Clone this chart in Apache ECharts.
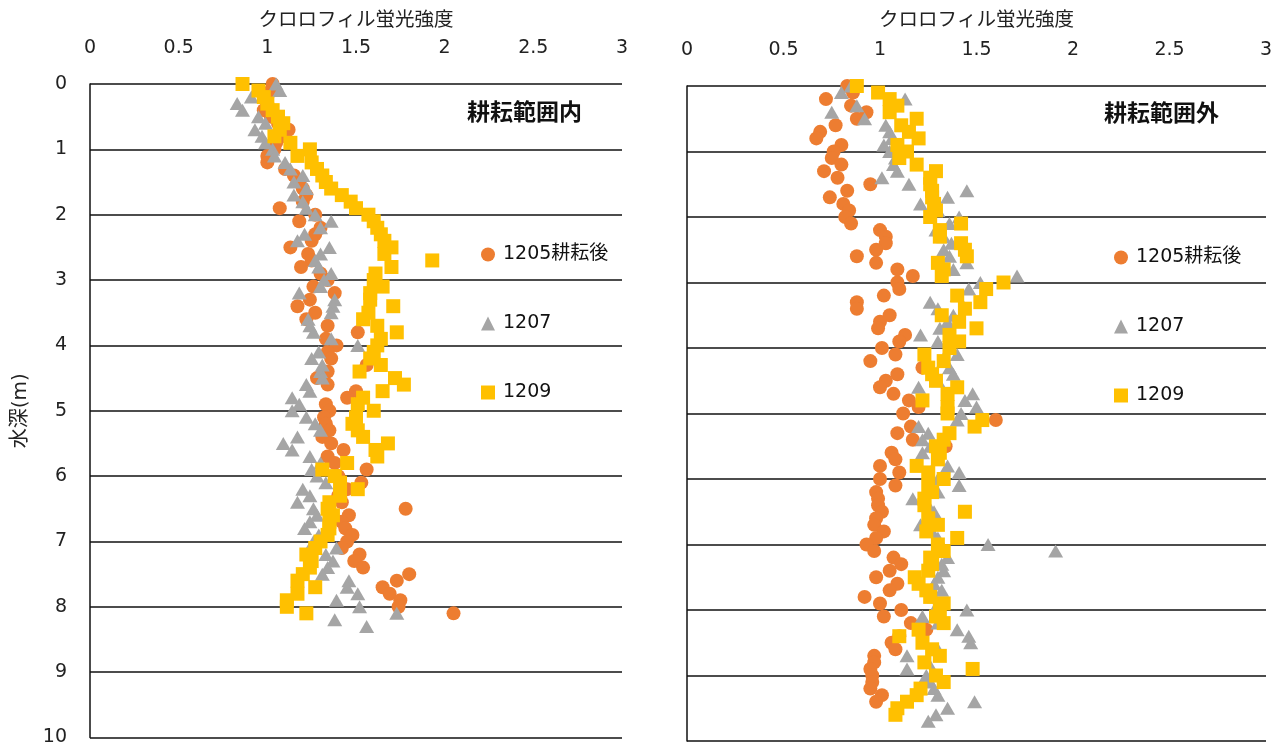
<!DOCTYPE html>
<html>
<head>
<meta charset="utf-8">
<title>クロロフィル蛍光強度の鉛直分布</title>
<script src="https://cdn.jsdelivr.net/npm/echarts@6/dist/echarts.min.js"></script>
<style>
  html, body { margin: 0; padding: 0; background: #fff; }
  #chart { width: 1281px; height: 747px; }
</style>
</head>
<body>
<div id="chart"></div>
<script>
// Sampling depths (m)
const depthM = [
  0.0, 0.1, 0.2, 0.3, 0.4, 0.5, 0.6, 0.7, 0.8, 0.9,
  1.0, 1.1, 1.2, 1.3, 1.4, 1.5, 1.6, 1.7, 1.8, 1.9,
  2.0, 2.1, 2.2, 2.3, 2.4, 2.5, 2.6, 2.7, 2.8, 2.9,
  3.0, 3.1, 3.2, 3.3, 3.4, 3.5, 3.6, 3.7, 3.8, 3.9,
  4.0, 4.1, 4.2, 4.3, 4.4, 4.5, 4.6, 4.7, 4.8, 4.9,
  5.0, 5.1, 5.2, 5.3, 5.4, 5.5, 5.6, 5.7, 5.8, 5.9,
  6.0, 6.1, 6.2, 6.3, 6.4, 6.5, 6.6, 6.7, 6.8, 6.9,
  7.0, 7.1, 7.2, 7.3, 7.4, 7.5, 7.6, 7.7, 7.8, 7.9,
  8.0, 8.1, 8.2, 8.3, 8.4, 8.5, 8.6, 8.7, 8.8, 8.9,
  9.0, 9.1, 9.2, 9.3, 9.4, 9.5, 9.6, 9.7
];

const seriesNames = ['1205耕耘後', '1207', '1209'];
const panelTitles = ['耕耘範囲内', '耕耘範囲外'];
const xAxisName = 'クロロフィル蛍光強度';
const yAxisName = '水深(m)';

// Fluorescence inside the tilled area, one value per depth
const inside1205 = [
  1.03, 1.02, 1.00, 1.00, 0.98, 1.02, 1.06, 1.12, 1.08, 1.05,
  1.04, 1.00, 1.00, 1.10, 1.15, 1.18, 1.20, 1.22, 1.20, 1.07,
  1.27, 1.18, 1.30, 1.27, 1.25, 1.13, 1.23, 1.25, 1.19, 1.30,
  1.34, 1.26, 1.38, 1.24, 1.17, 1.27, 1.22, 1.34, 1.51, 1.33,
  1.39, 1.34, 1.36, 1.56, 1.34, 1.28, 1.34, 1.50, 1.45, 1.33,
  1.35, 1.32, 1.33, 1.35, 1.31, 1.36, 1.43, 1.34, 1.38, 1.56,
  1.40, 1.53, 1.45, 1.40, 1.42, 1.78, 1.46, 1.42, 1.44, 1.48,
  1.45, 1.42, 1.52, 1.49, 1.54, 1.80, 1.73, 1.65, 1.69, 1.75,
  1.74, 2.05
];
const inside1207 = [
  1.05, 1.07, 0.91, 0.83, 0.86, 0.95, 0.99, 0.93, 0.97, 0.99,
  1.03, 1.04, 1.10, 1.13, 1.20, 1.15, 1.22, 1.15, 1.20, 1.22,
  1.27, 1.36, 1.30, 1.21, 1.17, 1.35, 1.30, 1.27, 1.29, 1.36,
  1.32, 1.30, 1.18, 1.38, 1.37, 1.36, 1.23, 1.24, 1.26, 1.36,
  1.51, 1.29, 1.25, 1.31, 1.30, 1.31, 1.22, 1.24, 1.14, 1.18,
  1.14, 1.22, 1.27, 1.30, 1.17, 1.09, 1.14, 1.24, 1.30, 1.25,
  1.28, 1.33, 1.20, 1.24, 1.17, 1.26, 1.28, 1.24, 1.21, 1.29,
  1.26, 1.39, 1.33, 1.37, 1.34, 1.31, 1.46, 1.45, 1.51, 1.39,
  1.52, 1.73, 1.38, 1.56
];
const inside1209 = [
  0.86, 0.95, 0.98, 1.00, 1.03, 1.06, 1.09, 1.07, 1.04, 1.13,
  1.24, 1.17, 1.25, 1.28, 1.31, 1.33, 1.36, 1.42, 1.47, 1.50,
  1.57, 1.60, 1.62, 1.64, 1.66, 1.70, 1.66, 1.93, 1.70, 1.61,
  1.60, 1.65, 1.58, 1.58, 1.71, 1.57, 1.54, 1.62, 1.73, 1.64,
  1.62, 1.60, 1.58, 1.64, 1.52, 1.72, 1.77, 1.65, 1.54, 1.51,
  1.60, 1.50, 1.48, 1.51, 1.54, 1.68, 1.61, 1.62, 1.45, 1.31,
  1.38, 1.41, 1.51, 1.41, 1.35, 1.34, 1.37, 1.35, 1.35, 1.34,
  1.30, 1.27, 1.22, 1.25, 1.24, 1.20, 1.17, 1.27, 1.17, 1.11,
  1.11, 1.22
];

// Fluorescence outside the tilled area
const outside1205 = [
  0.83, 0.86, 0.72, 0.85, 0.93, 0.88, 0.77, 0.69, 0.67, 0.80,
  0.76, 0.75, 0.80, 0.71, 0.78, 0.95, 0.83, 0.74, 0.81, 0.84,
  0.82, 0.85, 1.00, 1.03, 1.03, 0.98, 0.88, 0.98, 1.09, 1.17,
  1.09, 1.10, 1.02, 0.88, 0.88, 1.05, 1.00, 0.99, 1.13, 1.10,
  1.01, 1.08, 0.95, 1.22, 1.09, 1.03, 1.00, 1.07, 1.15, 1.20,
  1.12, 1.60, 1.16, 1.09, 1.17, 1.34, 1.06, 1.08, 1.00, 1.10,
  1.00, 1.08, 0.98, 0.99, 0.99, 1.01, 0.98, 0.97, 1.02, 0.98,
  0.93, 0.97, 1.07, 1.11, 1.05, 0.98, 1.09, 1.05, 0.92, 1.00,
  1.11, 1.02, 1.16, 1.24, 1.10, 1.06, 1.08, 0.97, 0.97, 0.95,
  0.96, 0.96, 0.95, 1.01, 0.98
];
const outside1207 = [
  0.85, 0.80, 1.13, 0.88, 0.75, 0.92, 1.03, 1.05, 1.06, 1.02,
  1.05, 1.08, 1.07, 1.09, 1.01, 1.15, 1.45, 1.35, 1.21, 1.30,
  1.41, 1.36, 1.29, 1.33, 1.37, 1.33, 1.36, 1.45, 1.38, 1.71,
  1.52, 1.46, 1.40, 1.26, 1.30, 1.38, 1.35, 1.31, 1.21, 1.30,
  1.36, 1.40, 1.33, 1.36, 1.38, 1.30, 1.20, 1.48, 1.44, 1.50,
  1.42, 1.40, 1.20, 1.25, 1.22, 1.26, 1.22, 1.30, 1.35, 1.41,
  1.30, 1.41, 1.30, 1.17, 1.25, 1.28, 1.26, 1.21, 1.27, 1.30,
  1.56, 1.91, 1.35, 1.32, 1.33, 1.30, 1.28, 1.32, 1.28, 1.30,
  1.45, 1.22, 1.30, 1.40, 1.46, 1.47, 1.30, 1.14, 1.25, 1.14,
  1.24, 1.26, 1.28, 1.30, 1.49, 1.35, 1.29, 1.25
];
const outside1209 = [
  0.88, 0.99, 1.05, 1.09, 1.05, 1.19, 1.11, 1.15, 1.20, 1.09,
  1.14, 1.10, 1.19, 1.29, 1.26, 1.26, 1.27, 1.27, 1.28, 1.29,
  1.26, 1.42, 1.31, 1.31, 1.42, 1.44, 1.45, 1.30, 1.33, 1.32,
  1.64, 1.55, 1.40, 1.52, 1.44, 1.32, 1.41, 1.50, 1.36, 1.41,
  1.36, 1.23, 1.33, 1.25, 1.27, 1.29, 1.40, 1.35, 1.22, 1.35,
  1.35, 1.53, 1.49, 1.36, 1.33, 1.29, 1.31, 1.30, 1.19, 1.25,
  1.33, 1.25, 1.27, 1.23, 1.23, 1.44, 1.25, 1.30, 1.24, 1.40,
  1.30, 1.33, 1.26, 1.27, 1.25, 1.18, 1.20, 1.24, 1.26, 1.33,
  1.31, 1.29, 1.33, 1.20, 1.10, 1.22, 1.27, 1.31, 1.23, 1.48,
  1.29, 1.33, 1.21, 1.19, 1.14, 1.09, 1.08
];

const COLORS = ['#ED7D31', '#A5A5A5', '#FFC000'];
const SYMBOLS = ['circle', 'triangle', 'rect'];
const SYMBOL_SIZES = [14, [15, 13], 14];
const FONT = "'DejaVu Sans', 'Noto Sans CJK JP', sans-serif";
const LINE = '#111111';

function toPoints(values) {
  return values.map((v, i) => [v, depthM[i]]);
}

function makeSeries(panel, valueSets) {
  return valueSets.map((vals, k) => ({
    name: seriesNames[k],
    type: 'scatter',
    xAxisIndex: panel,
    yAxisIndex: panel,
    symbol: SYMBOLS[k],
    symbolSize: SYMBOL_SIZES[k],
    itemStyle: { color: COLORS[k], opacity: 1 },
    emphasis: { disabled: true },
    z: 2 + k,
    data: toPoints(vals)
  }));
}

const grids = [
  { left: 90, top: 84, width: 532, height: 657 },
  { left: 687, top: 86, width: 579, height: 655 }
];

function makeXAxis(panel) {
  return {
    type: 'value',
    gridIndex: panel,
    position: 'top',
    min: 0, max: 3, interval: 0.5,
    name: xAxisName,
    nameLocation: 'middle',
    nameGap: panel === 0 ? 53 : 55,
    nameTextStyle: { fontFamily: FONT, fontSize: 19.5, color: '#222' },
    axisLine: { show: false },
    axisTick: { show: false },
    splitLine: { show: false },
    axisLabel: { fontFamily: FONT, fontSize: 19, color: '#222', margin: 26 }
  };
}

function makeYAxis(panel) {
  return {
    type: 'value',
    gridIndex: panel,
    inverse: true,
    min: 0, max: 10, interval: 1,
    name: panel === 0 ? yAxisName : '',
    nameLocation: 'middle',
    nameGap: 59,
    nameTextStyle: { fontFamily: FONT, fontSize: 20, color: '#222' },
    axisLine: { show: true, onZero: false, lineStyle: { color: LINE, width: 1.5 } },
    axisTick: { show: false },
    axisLabel: { show: panel === 0, fontFamily: FONT, fontSize: 19, color: '#222', margin: 23 },
    splitLine: { show: true, lineStyle: { color: LINE, width: 1.5 } }
  };
}

function makeLegend(left, top) {
  return {
    data: seriesNames,
    orient: 'vertical',
    left: left,
    top: top,
    itemGap: 50,
    itemWidth: 14,
    itemHeight: 14,
    selectedMode: false,
    padding: 0,
    textStyle: { fontFamily: FONT, fontSize: 19, color: '#111', lineHeight: 18, padding: [0, 0, 0, 3] }
  };
}

const chart = echarts.init(document.getElementById('chart'), null, { renderer: 'canvas' });
chart.setOption({
  backgroundColor: '#ffffff',
  animation: false,
  title: [
    { text: panelTitles[0], left: 467, top: 103, padding: 0,
      textStyle: { fontFamily: FONT, fontSize: 23, fontWeight: 'bold', color: '#111' } },
    { text: panelTitles[1], left: 1104, top: 104, padding: 0,
      textStyle: { fontFamily: FONT, fontSize: 23, fontWeight: 'bold', color: '#111' } }
  ],
  legend: [makeLegend(481, 245), makeLegend(1114, 248)],
  grid: grids,
  xAxis: [makeXAxis(0), makeXAxis(1)],
  yAxis: [makeYAxis(0), makeYAxis(1)],
  series: [
    ...makeSeries(0, [inside1205, inside1207, inside1209]),
    ...makeSeries(1, [outside1205, outside1207, outside1209])
  ]
});
</script>
</body>
</html>
